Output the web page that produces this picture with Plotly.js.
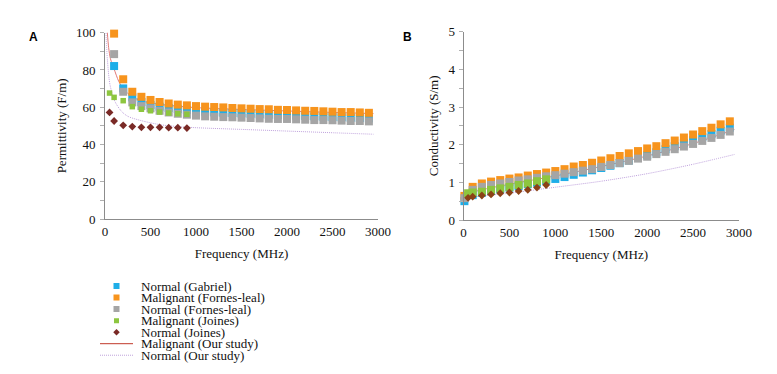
<!DOCTYPE html>
<html><head><meta charset="utf-8">
<script src="https://cdn.plot.ly/plotly-3.0.1.min.js"></script>
<style>html,body{margin:0;padding:0;background:#fff}#chart{width:777px;height:374px}</style>
</head><body><div id="chart"></div>
<script>
// ---------- data ----------
var seriesNames = ["Normal (Gabriel)", "Malignant (Fornes-leal)", "Normal (Fornes-leal)", "Malignant (Joines)", "Normal (Joines)", "Malignant (Our study)", "Normal (Our study)"];

// Panel A (permittivity)
var freqA = [100,200,300,400,500,600,700,800,900,1000,1100,1200,1300,1400,1500,1600,1700,1800,1900,2000,2100,2200,2300,2400,2500,2600,2700,2800,2900];
var permNorGab = [82.1,70.1,65.3,62.8,61.2,60.3,59.6,59.0,58.5,58.0,57.6,57.2,57.0,56.9,56.7,56.5,56.2,56.0,55.8,55.6,55.5,55.3,55.1,54.9,54.7,54.6,54.4,54.2,54.0];
var permMalFL = [99.5,75.0,68.3,65.6,63.9,62.8,62.0,61.4,61.0,60.6,60.3,60.1,59.9,59.6,59.4,59.2,59.0,58.9,58.6,58.5,58.3,58.1,58.0,57.8,57.6,57.4,57.4,57.2,57.0];
var permNorFL = [88.5,68.3,62.6,60.6,59.4,58.1,57.2,56.5,56.0,55.5,55.1,54.9,54.7,54.6,54.4,54.2,54.0,53.8,53.7,53.7,53.5,53.3,53.1,53.1,53.0,52.8,52.6,52.6,52.4];
var freqJoines = [50,100,200,300,400,500,600,700,800,900];
var permMalJ = [67.6,65.3,63.5,60.3,58.9,58.1,57.4,56.9,56.5,56.2];
var permNorJ = [57.2,52.6,50.3,49.6,49.2,49.2,49.2,49.0,49.0,48.8];
var freqOurMalA = [25,40,60,100,150,200,300,400,500,700,1000,1500,2000,2500,2950];
var permMalOur = [100.5,92,86,80.5,74,70,65.5,63.5,62.3,61.0,59.8,58.8,58.0,57.2,56.6];
var freqOurNorA = [10,25,55,110,183,256,440,623,806,1000,1500,2000,2500,2950];
var permNorOur = [101,86.4,72,63,57.7,55,52.3,50.5,49.6,49.0,48.1,47.2,46.3,45.5];

// Panel B (conductivity)
var freqB = [10,100,200,300,400,500,600,700,800,900,1000,1100,1200,1300,1400,1500,1600,1700,1800,1900,2000,2100,2200,2300,2400,2500,2600,2700,2800,2900];
var condNorGab = [0.50,0.66,0.72,0.77,0.82,0.86,0.90,0.95,0.99,1.04,1.09,1.14,1.20,1.26,1.32,1.38,1.44,1.51,1.58,1.65,1.72,1.80,1.88,1.96,2.04,2.12,2.20,2.28,2.37,2.45];
var condMalFL = [0.64,0.88,0.97,1.02,1.06,1.10,1.13,1.18,1.22,1.26,1.30,1.35,1.42,1.46,1.52,1.58,1.64,1.70,1.77,1.83,1.90,1.96,2.04,2.11,2.19,2.27,2.36,2.45,2.54,2.62];
var condNorFL = [0.58,0.80,0.88,0.93,0.97,1.01,1.05,1.08,1.12,1.16,1.19,1.23,1.27,1.31,1.35,1.41,1.46,1.51,1.57,1.63,1.68,1.75,1.81,1.88,1.95,2.02,2.10,2.18,2.26,2.35];
var condMalJ = [0.71,0.73,0.75,0.80,0.84,0.88,0.93,0.97,1.03,1.08];
var condNorJ = [0.59,0.62,0.65,0.68,0.71,0.73,0.77,0.80,0.86,0.93];
var freqOurB = [0,100,250,500,750,1000,1500,2000,2500,2950];
var condMalOur = [0.66,0.74,0.83,0.95,1.06,1.17,1.42,1.70,2.03,2.40];
var condNorOur = [0.58,0.61,0.65,0.71,0.79,0.87,1.03,1.23,1.48,1.74];

var xTicks = [0,500,1000,1500,2000,2500,3000];
var permTicks = [0,20,40,60,80,100];
var condTicks = [0,1,2,3,4,5];

// ---------- styles ----------
var cBlue = '#1eaee8', cOrange = '#f7941d', cGray = '#a5a5a5', cGreen = '#8dc63f', cDiaA = '#7a2a26', cDiaB = '#8b4216';
var cRed = '#e07a78', cRedLeg = '#c0392b', cPurple = '#bfa2dc';
var serif = 'Liberation Serif, Times New Roman, serif';
var txt = '#111';

function mk(x, y, xa, ya, color, sym, size) {
  return {x: x, y: y, xaxis: xa, yaxis: ya, type: 'scatter', mode: 'markers', showlegend: false, cliponaxis: false,
    marker: {color: color, symbol: sym, size: size, line: {width: 0}}, hoverinfo: 'x+y'};
}
function ln(x, y, xa, ya, color, dash) {
  return {x: x, y: y, xaxis: xa, yaxis: ya, type: 'scatter', mode: 'lines', showlegend: false,
    line: {color: color, width: 1, dash: dash, shape: 'spline', smoothing: 0.8}, hoverinfo: 'x+y'};
}

var traces = [
  ln(freqOurMalA, permMalOur, 'x', 'y', cRed, 'solid'),
  ln(freqOurNorA, permNorOur, 'x', 'y', cPurple, '1px,1px'),
  mk(freqA, permNorGab, 'x', 'y', cBlue, 'square', 8),
  mk(freqA, permMalFL, 'x', 'y', cOrange, 'square', 8),
  mk(freqA, permNorFL, 'x', 'y', cGray, 'square', 8),
  mk(freqJoines, permMalJ, 'x', 'y', cGreen, 'square', 5.5),
  mk(freqJoines, permNorJ, 'x', 'y', cDiaA, 'diamond', 6),

  ln(freqOurB, condMalOur, 'x2', 'y2', cRed, 'solid'),
  ln(freqOurB, condNorOur, 'x2', 'y2', cPurple, '1px,1px'),
  mk(freqB, condNorGab, 'x2', 'y2', cBlue, 'square', 8),
  mk(freqB, condMalFL, 'x2', 'y2', cOrange, 'square', 8),
  mk(freqB, condNorFL, 'x2', 'y2', cGray, 'square', 8),
  mk(freqJoines, condMalJ, 'x2', 'y2', cGreen, 'square', 8),
  mk(freqJoines, condNorJ, 'x2', 'y2', cDiaB, 'diamond', 6)
];

// legend (custom, compact rows)
var legStyle = [
  {color: cBlue, sym: 'square', size: 6},
  {color: cOrange, sym: 'square', size: 6},
  {color: cGray, sym: 'square', size: 6},
  {color: cGreen, sym: 'square', size: 5},
  {color: cDiaA, sym: 'diamond', size: 5},
  {color: cRedLeg, line: 'solid'},
  {color: cPurple, line: '1px,1px'}
];
var annotations = [];
seriesNames.forEach(function (name, i) {
  var s = legStyle[i];
  if (s.line) {
    traces.push({x: [0, 1], y: [i, i], xaxis: 'x3', yaxis: 'y3', type: 'scatter', mode: 'lines', showlegend: false,
      hoverinfo: 'skip', line: {color: s.color, width: 1, dash: s.line}});
  } else {
    traces.push({x: [0.5], y: [i], xaxis: 'x3', yaxis: 'y3', type: 'scatter', mode: 'markers', showlegend: false,
      hoverinfo: 'skip', marker: {color: s.color, symbol: s.sym, size: s.size, line: {width: 0}}});
  }
  annotations.push({xref: 'x3', yref: 'y3', x: 1, y: i, xanchor: 'left', yanchor: 'middle', xshift: 6,
    showarrow: false, text: name, font: {family: serif, size: 13, color: txt}});
});
annotations.push({xref: 'paper', yref: 'paper', x: 33 / 777, y: 1 - 37 / 374, xanchor: 'center', yanchor: 'middle',
  showarrow: false, text: '<b>A</b>', font: {family: 'Liberation Sans, Arial, sans-serif', size: 12, color: '#000'}});
annotations.push({xref: 'paper', yref: 'paper', x: 407 / 777, y: 1 - 37 / 374, xanchor: 'center', yanchor: 'middle',
  showarrow: false, text: '<b>B</b>', font: {family: 'Liberation Sans, Arial, sans-serif', size: 12, color: '#000'}});

var axisCommon = {showline: true, linecolor: '#8c8c8c', linewidth: 1, showgrid: false, zeroline: false,
  ticks: '', tickfont: {family: serif, size: 13, color: txt}, automargin: false};

function xa(domain, anchor) {
  return Object.assign({}, axisCommon, {domain: domain, anchor: anchor, range: [0, 3000], tickmode: 'array',
    tickvals: xTicks, ticktext: xTicks.map(String),
    title: {text: 'Frequency (MHz)', font: {family: serif, size: 13, color: txt}, standoff: 11}});
}

var layout = {
  width: 777, height: 374,
  margin: {l: 0, r: 0, t: 0, b: 0},
  paper_bgcolor: '#fff', plot_bgcolor: '#fff',
  showlegend: false,
  font: {family: serif, size: 13, color: txt},
  xaxis: xa([105 / 777, 378 / 777], 'y'),
  yaxis: Object.assign({}, axisCommon, {domain: [155 / 374, 341.3 / 374], anchor: 'x', range: [0, 100],
    tickmode: 'array', tickvals: permTicks, ticktext: permTicks.map(String), ticklabelstandoff: 6,
    minor: {dtick: 10, ticks: 'outside', ticklen: 4, tickcolor: '#b0b0b0', showgrid: false},
    title: {text: 'Permittivity (F/m)', font: {family: serif, size: 13, color: txt}, standoff: 6}}),
  xaxis2: xa([463.5 / 777, 739 / 777], 'y2'),
  yaxis2: Object.assign({}, axisCommon, {domain: [154 / 374, 342.3 / 374], anchor: 'x2', range: [0, 5],
    tickmode: 'array', tickvals: condTicks, ticktext: condTicks.map(String), ticklabelstandoff: 5,
    minor: {dtick: 0.5, ticks: 'outside', ticklen: 4, tickcolor: '#b0b0b0', showgrid: false},
    title: {text: 'Conductivity (S/m)', font: {family: serif, size: 13, color: txt}, standoff: 6}}),
  xaxis3: {domain: [100 / 777, 133 / 777], anchor: 'y3', range: [0, 1], visible: false, fixedrange: true},
  yaxis3: {domain: [13 / 374, 93.75 / 374], anchor: 'x3', range: [6.5, -0.5], visible: false, fixedrange: true},
  annotations: annotations
};

Plotly.newPlot('chart', traces, layout, {displayModeBar: false, staticPlot: true});
</script></body></html>
